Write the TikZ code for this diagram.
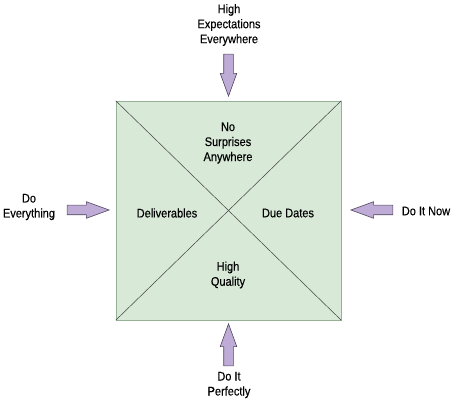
\documentclass[tikz,border=0pt]{standalone}
\usepackage{fontspec}
\setmainfont{Liberation Sans}[FakeStretch=0.88, FakeBold=0.3]
\usepackage{xcolor}
\definecolor{sage}{RGB}{216,233,216}
\definecolor{sageedge}{RGB}{150,178,150}
\definecolor{lilac}{RGB}{190,172,214}
\definecolor{lilacedge}{RGB}{80,70,95}
\usepackage{tikz}
\usetikzlibrary{shapes.arrows, positioning, calc}

\begin{document}
\begin{tikzpicture}[
    x=1pt, y=-1pt,
    font=\fontsize{12.5}{15}\selectfont,
    textnode/.style={align=center, inner sep=1pt},
    pusharrow/.style={draw=lilacedge, fill=lilac, line width=0.6pt, single arrow,
      inner xsep=0pt, inner ysep=4.5pt, anchor=tip,
      minimum height=42pt, single arrow head extend=3.5pt,
      single arrow tip angle=40, single arrow head indent=0pt}
  ]
  \useasboundingbox (0,0) rectangle (456,403);

  % the square and its diagonals
  \node (box) [draw=sageedge, fill=sage, line width=0.5pt, minimum width=225pt, minimum height=219pt, inner sep=0pt] at (228.5,210.5) {};
  \draw[line width=0.5pt, black!75] (box.north west) -- (box.south east);
  \draw[line width=0.5pt, black!75] (box.north east) -- (box.south west);

  % quadrant labels
  \node (surprises) [textnode] at (228,143) {No\\Surprises\\Anywhere};
  \node (deliver) [textnode] at (167,213) {Deliverables};
  \node (duedates) [textnode] at (288,213) {Due Dates};
  \node (quality) [textnode] at (228,275) {High\\Quality};

  % outside pressures
  \node (expect) [textnode] at (229,25) {High\\Expectations\\Everywhere};
  \node (doall) [textnode] at (29,207) {Do\\Everything};
  \node (donow) [textnode] at (426,211) {Do It Now};
  \node (perfect) [textnode] at (229,385) {Do It\\Perfectly};

  \node (toparrow) [pusharrow, rotate=-90] at (228.5,97) {};
  \node (leftarrow) [pusharrow] at (110,210) {};
  \node (rightarrow) [pusharrow, rotate=180] at (350,210) {};
  \node (botarrow) [pusharrow, rotate=90] at (228.5,323) {};

\end{tikzpicture}
\end{document}
